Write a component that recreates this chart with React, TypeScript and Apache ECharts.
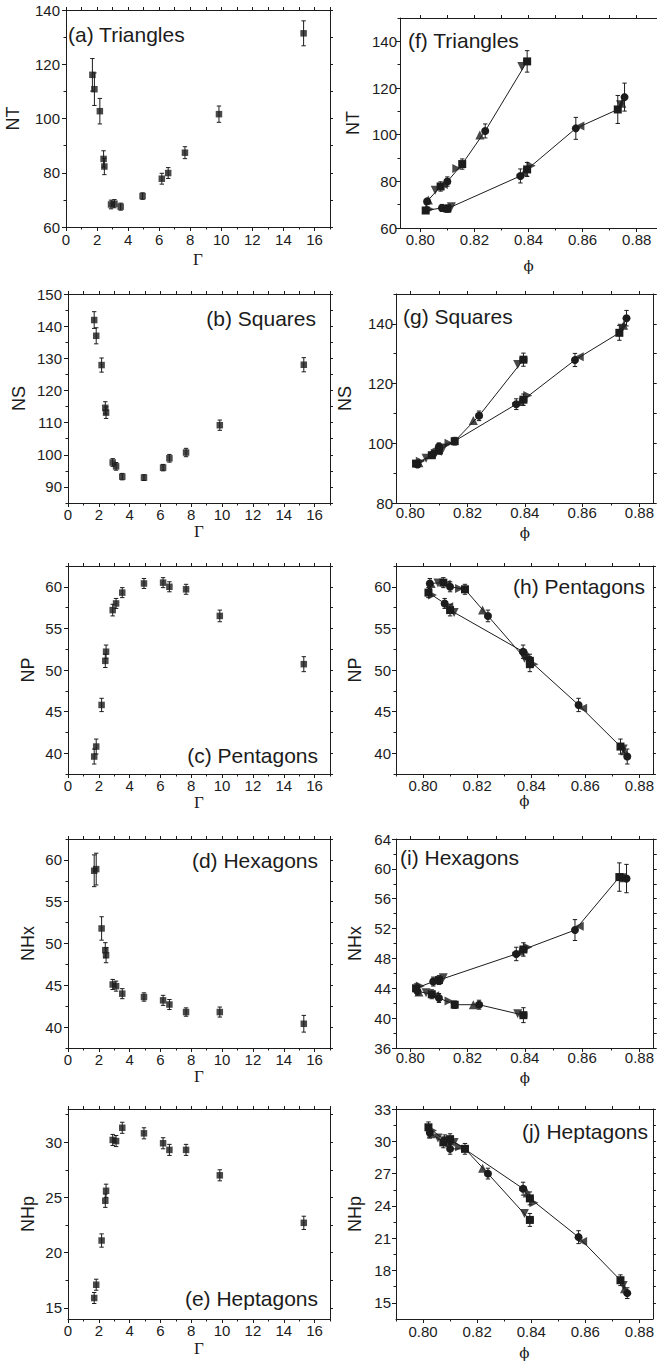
import React, { useEffect, useRef } from "react";
import * as echarts from "echarts";

// Coupling parameter Γ of each run
const gamma = [1.7, 1.83, 2.18, 2.42, 2.47, 2.9, 3.12, 3.52, 4.93, 6.17, 6.58, 7.66, 9.85, 15.3];

// Packing fraction ϕ of each run (filled squares/circles) and its horizontal error
const phi = [0.8755, 0.873, 0.8575, 0.8395, 0.837, 0.81, 0.808, 0.802, 0.8025, 0.8075, 0.81, 0.8155, 0.824, 0.8395];
const phiErr = [0.0008, 0.0008, 0.0008, 0.0012, 0.0012, 0.0008, 0.0008, 0.0006, 0.0006, 0.0008, 0.0008, 0.0008, 0.001, 0.0012];
// Packing fraction of the paired runs (triangle markers)
const phiAlt = [0.8745, 0.874, 0.859, 0.841, 0.8385, 0.8115, 0.8095, 0.8035, 0.803, 0.8055, 0.8085, 0.8135, 0.822, 0.8375];

// Number of triangles
const nTri = [116.1, 110.8, 102.7, 85.1, 82.3, 68.3, 68.6, 67.5, 71.4, 77.8, 79.9, 87.4, 101.6, 131.4];
const nTriErr = [6.0, 6.0, 4.7, 3.0, 3.0, 1.6, 1.5, 1.3, 1.2, 2.0, 2.0, 2.2, 3.0, 4.6];
const nTriAlt = [113.5, 112.8, 103.7, 86.7, 84.0, 69.1, 68.5, 68.0, 72.0, 76.2, 78.6, 85.5, 99.9, 129.2];

// Number of squares
const nSq = [141.9, 137.0, 127.9, 114.6, 113.1, 97.6, 96.4, 93.2, 92.9, 96.0, 98.9, 100.7, 109.2, 128.0];
const nSqErr = [2.6, 2.5, 2.2, 1.9, 1.8, 1.2, 1.2, 1.0, 0.9, 1.0, 1.2, 1.3, 1.6, 2.2];
const nSqAlt = [139.5, 138.5, 129.0, 116.0, 114.0, 98.4, 97.3, 94.0, 93.5, 95.0, 97.8, 100.0, 107.6, 126.4];

// Number of pentagons
const nPent = [39.6, 40.8, 45.8, 51.1, 52.2, 57.2, 58.0, 59.3, 60.4, 60.5, 60.0, 59.7, 56.5, 50.7];
const nPentErr = [0.9, 0.9, 0.8, 0.8, 0.8, 0.7, 0.6, 0.6, 0.6, 0.6, 0.6, 0.6, 0.7, 0.9];
const nPentAlt = [40.3, 40.5, 45.4, 50.7, 51.8, 56.9, 57.6, 59.0, 60.4, 60.45, 60.3, 59.8, 57.2, 51.4];

// Number of hexagons
const nHex = [58.7, 58.9, 51.8, 49.2, 48.6, 45.1, 44.9, 44.0, 43.6, 43.2, 42.7, 41.8, 41.8, 40.4];
const nHexErr = [1.9, 1.9, 1.4, 0.9, 0.9, 0.6, 0.6, 0.6, 0.5, 0.6, 0.6, 0.5, 0.6, 1.0];
const nHexAlt = [58.8, 58.8, 52.3, 49.5, 49.0, 45.4, 45.1, 44.3, 43.5, 43.4, 43.0, 42.3, 41.8, 40.6];

// Number of heptagons
const nHep = [15.9, 17.1, 21.1, 24.7, 25.6, 30.2, 30.1, 31.3, 30.8, 29.9, 29.3, 29.3, 27.0, 22.7];
const nHepErr = [0.5, 0.5, 0.6, 0.6, 0.6, 0.5, 0.5, 0.5, 0.5, 0.5, 0.5, 0.5, 0.5, 0.6];
const nHepAlt = [16.3, 16.6, 20.7, 24.3, 25.2, 29.9, 30.0, 31.0, 30.7, 30.3, 29.7, 29.5, 27.5, 23.3];

// Tick values
const gammaTicks = [0, 2, 4, 6, 8, 10, 12, 14, 16];
const gammaMinor = [1, 3, 5, 7, 9, 11, 13, 15, 17];
const phiTicks = [0.8, 0.82, 0.84, 0.86, 0.88];
const phiMinor = [0.79, 0.81, 0.83, 0.85, 0.87];
const triTicks = [60, 80, 100, 120, 140];
const triMinor = [70, 90, 110, 130, 150];
const sqTicksL = [90, 100, 110, 120, 130, 140, 150];
const sqMinorL = [85, 95, 105, 115, 125, 135, 145];
const sqTicksR = [80, 100, 120, 140];
const sqMinorR = [90, 110, 130, 150];
const fiveTicks = [40, 45, 50, 55, 60];
const fiveMinor = [37.5, 42.5, 47.5, 52.5, 57.5, 62.5];
const hepTicksL = [15, 20, 25, 30];
const hepMinorL = [17.5, 22.5, 27.5, 32.5];
const hexTicksR = [36, 40, 44, 48, 52, 56, 60, 64];
const hexMinorR = [38, 42, 46, 50, 54, 58, 62];
const hepTicksR = [15, 18, 21, 24, 27, 30, 33];
const hepMinorR = [16.5, 19.5, 22.5, 25.5, 28.5, 31.5];

const INK = "#1c1c1c";
const SANS = "'Liberation Sans', Arial, Helvetica, sans-serif";
const SERIF = "'Liberation Serif', 'Times New Roman', serif";
const PHI_FONT = "'DejaVu Serif', serif";

type Panel = {
  title: string;
  tx: number;
  ty: number;
  talign: "left" | "right";
  grid: { left: number; top: number; width: number; height: number };
  vsPhi: boolean;
  xMin: number;
  xMax: number;
  xNameGap: number;
  xLabelMargin: number;
  yMin: number;
  yMax: number;
  yTicks: number[];
  yMinor: number[];
  yName: string;
  yNameGap: number;
  yLabelMargin: number;
  values: number[];
  errs: number[];
  alt: number[];
};

const panels: Panel[] = [
  { title: "(a) Triangles", tx: 68, ty: 34, talign: "left", grid: { left: 66, top: 10, width: 264, height: 217 }, vsPhi: false, xMin: 0, xMax: 17, xNameGap: 24, xLabelMargin: 5, yMin: 60, yMax: 140, yTicks: triTicks, yMinor: triMinor.slice(0, 4), yName: "NT", yNameGap: 44, yLabelMargin: 6, values: nTri, errs: nTriErr, alt: nTriAlt },
  { title: "(b) Squares", tx: 316, ty: 318, talign: "right", grid: { left: 68, top: 294, width: 262, height: 209 }, vsPhi: false, xMin: 0, xMax: 17, xNameGap: 13, xLabelMargin: 4, yMin: 85, yMax: 150, yTicks: sqTicksL, yMinor: sqMinorL, yName: "NS", yNameGap: 40, yLabelMargin: 6, values: nSq, errs: nSqErr, alt: nSqAlt },
  { title: "(c) Pentagons", tx: 318, ty: 755, talign: "right", grid: { left: 68, top: 566, width: 262, height: 208 }, vsPhi: false, xMin: 0, xMax: 17, xNameGap: 19, xLabelMargin: 4, yMin: 37.5, yMax: 62.5, yTicks: fiveTicks, yMinor: fiveMinor, yName: "NP", yNameGap: 31, yLabelMargin: 6, values: nPent, errs: nPentErr, alt: nPentAlt },
  { title: "(d) Hexagons", tx: 318, ty: 860, talign: "right", grid: { left: 68, top: 839, width: 262, height: 209 }, vsPhi: false, xMin: 0, xMax: 17, xNameGap: 17, xLabelMargin: 4, yMin: 37.5, yMax: 62.5, yTicks: fiveTicks, yMinor: fiveMinor, yName: "NHx", yNameGap: 31, yLabelMargin: 6, values: nHex, errs: nHexErr, alt: nHexAlt },
  { title: "(e) Heptagons", tx: 318, ty: 1298, talign: "right", grid: { left: 68, top: 1109, width: 262, height: 210 }, vsPhi: false, xMin: 0, xMax: 17, xNameGap: 21, xLabelMargin: 4, yMin: 14, yMax: 33, yTicks: hepTicksL, yMinor: hepMinorL, yName: "NHp", yNameGap: 31, yLabelMargin: 6, values: nHep, errs: nHepErr, alt: nHepAlt },
  { title: "(f) Triangles", tx: 408, ty: 40, talign: "left", grid: { left: 400, top: 18, width: 268, height: 210 }, vsPhi: true, xMin: 0.7925, xMax: 0.8875, xNameGap: 30, xLabelMargin: 4, yMin: 60, yMax: 150, yTicks: triTicks, yMinor: triMinor, yName: "NT", yNameGap: 38, yLabelMargin: 3, values: nTri, errs: nTriErr, alt: nTriAlt },
  { title: "(g) Squares", tx: 403, ty: 316, talign: "left", grid: { left: 396, top: 294, width: 258, height: 209 }, vsPhi: true, xMin: 0.795, xMax: 0.885, xNameGap: 22, xLabelMargin: 2, yMin: 80, yMax: 150, yTicks: sqTicksR, yMinor: sqMinorR, yName: "NS", yNameGap: 42, yLabelMargin: 3, values: nSq, errs: nSqErr, alt: nSqAlt },
  { title: "(h) Pentagons", tx: 645, ty: 586, talign: "right", grid: { left: 396, top: 566, width: 257, height: 208 }, vsPhi: true, xMin: 0.79, xMax: 0.885, xNameGap: 19, xLabelMargin: 4, yMin: 37.5, yMax: 62.5, yTicks: fiveTicks, yMinor: fiveMinor, yName: "NP", yNameGap: 32, yLabelMargin: 5, values: nPent, errs: nPentErr, alt: nPentAlt },
  { title: "(i) Hexagons", tx: 400, ty: 857, talign: "left", grid: { left: 396, top: 839, width: 258, height: 209 }, vsPhi: true, xMin: 0.795, xMax: 0.885, xNameGap: 22, xLabelMargin: 2, yMin: 36, yMax: 64, yTicks: hexTicksR, yMinor: hexMinorR, yName: "NHx", yNameGap: 32, yLabelMargin: 5, values: nHex, errs: nHexErr, alt: nHexAlt },
  { title: "(j) Heptagons", tx: 648, ty: 1131, talign: "right", grid: { left: 396, top: 1109, width: 257, height: 210 }, vsPhi: true, xMin: 0.79, xMax: 0.885, xNameGap: 26, xLabelMargin: 5, yMin: 13.5, yMax: 33, yTicks: hepTicksR, yMinor: hepMinorR, yName: "NHp", yNameGap: 32, yLabelMargin: 5, values: nHep, errs: nHepErr, alt: nHepAlt },
];

const lineStyle = { color: INK, width: 1 };

// Vertical (and optionally horizontal) error bars with short caps
function renderErrorBars(_params: any, api: any) {
  const x = api.value(0);
  const y = api.value(1);
  const ey = api.value(2);
  const ex = api.value(3);
  const cap = 2.2;
  const st = { stroke: INK, lineWidth: 1 };
  const hi = api.coord([x, y + ey]);
  const lo = api.coord([x, y - ey]);
  const children: any[] = [
    { type: "line", shape: { x1: hi[0], y1: hi[1], x2: lo[0], y2: lo[1] }, style: st },
    { type: "line", shape: { x1: hi[0] - cap, y1: hi[1], x2: hi[0] + cap, y2: hi[1] }, style: st },
    { type: "line", shape: { x1: lo[0] - cap, y1: lo[1], x2: lo[0] + cap, y2: lo[1] }, style: st },
  ];
  if (ex > 0) {
    const l = api.coord([x - ex, y]);
    const r = api.coord([x + ex, y]);
    children.push(
      { type: "line", shape: { x1: l[0], y1: l[1], x2: r[0], y2: r[1] }, style: st },
      { type: "line", shape: { x1: l[0], y1: l[1] - cap, x2: l[0], y2: l[1] + cap }, style: st },
      { type: "line", shape: { x1: r[0], y1: r[1] - cap, x2: r[0], y2: r[1] + cap }, style: st }
    );
  }
  return { type: "group", children };
}

function buildOption() {
  const grids: any[] = [];
  const xAxes: any[] = [];
  const yAxes: any[] = [];
  const series: any[] = [];
  const graphics: any[] = [];

  panels.forEach((p, g) => {
    grids.push({ ...p.grid, containLabel: false, show: false });
    const xTicks = p.vsPhi ? phiTicks : gammaTicks;
    const xMinor = p.vsPhi ? phiMinor : gammaMinor;
    const labelFont = { fontSize: 15, color: INK, fontFamily: SANS };
    const base = { type: "value", gridIndex: g, splitLine: { show: false } };

    xAxes.push({
      ...base,
      position: "bottom",
      min: p.xMin,
      max: p.xMax,
      axisLine: { show: true, onZero: false, lineStyle },
      axisTick: { show: true, inside: false, length: 4, customValues: xTicks, lineStyle },
      axisLabel: {
        show: true,
        customValues: xTicks,
        margin: p.xLabelMargin,
        formatter: (v: number) => (p.vsPhi ? v.toFixed(2) : String(Math.round(v))),
        ...labelFont,
      },
      name: p.vsPhi ? "ϕ" : "Γ",
      nameLocation: "middle",
      nameGap: p.xNameGap,
      nameTextStyle: { fontFamily: p.vsPhi ? PHI_FONT : SERIF, fontSize: p.vsPhi ? 15 : 17, color: INK },
    });
    xAxes.push({
      ...base,
      position: "bottom",
      min: p.xMin,
      max: p.xMax,
      axisLine: { show: false, onZero: false },
      axisTick: { show: true, inside: false, length: 2.5, customValues: xMinor, lineStyle },
      axisLabel: { show: false },
    });
    xAxes.push({
      ...base,
      position: "top",
      min: p.xMin,
      max: p.xMax,
      axisLine: { show: true, onZero: false, lineStyle },
      axisTick: { show: true, inside: false, length: 3, customValues: [...xTicks, ...xMinor], lineStyle },
      axisLabel: { show: false },
    });

    yAxes.push({
      ...base,
      position: "left",
      min: p.yMin,
      max: p.yMax,
      axisLine: { show: true, onZero: false, lineStyle },
      axisTick: { show: true, inside: false, length: 4, customValues: p.yTicks, lineStyle },
      axisLabel: { show: true, customValues: p.yTicks, margin: p.yLabelMargin, ...labelFont },
      name: p.yName,
      nameLocation: "middle",
      nameGap: p.yNameGap,
      nameRotate: 90,
      nameTextStyle: { fontFamily: SANS, fontSize: 18, color: INK },
    });
    yAxes.push({
      ...base,
      position: "left",
      min: p.yMin,
      max: p.yMax,
      axisLine: { show: false, onZero: false },
      axisTick: { show: true, inside: false, length: 2.5, customValues: p.yMinor, lineStyle },
      axisLabel: { show: false },
    });
    yAxes.push({
      ...base,
      position: "right",
      min: p.yMin,
      max: p.yMax,
      axisLine: { show: true, onZero: false, lineStyle },
      axisTick: { show: true, inside: false, length: 3, customValues: [...p.yTicks, ...p.yMinor], lineStyle },
      axisLabel: { show: false },
    });

    const xi = 3 * g;
    const yi = 3 * g;
    const xs = p.vsPhi ? phi : gamma;

    series.push({
      type: "custom",
      xAxisIndex: xi,
      yAxisIndex: yi,
      renderItem: renderErrorBars,
      data: xs.map((x, i) => [x, p.values[i], p.errs[i], p.vsPhi ? phiErr[i] : 0]),
      z: 2,
      silent: true,
    });

    if (p.vsPhi) {
      series.push({
        type: "line",
        xAxisIndex: xi,
        yAxisIndex: yi,
        data: xs.map((x, i) => ({ value: [x, p.values[i]], symbol: i % 2 === 0 ? "circle" : "rect" })),
        symbolSize: 8,
        showSymbol: true,
        lineStyle: { color: INK, width: 1 },
        itemStyle: { color: INK },
        z: 3,
      });
      const rot = [0, 180, 90, -90];
      series.push({
        type: "scatter",
        xAxisIndex: xi,
        yAxisIndex: yi,
        data: phiAlt.map((x, i) => ({ value: [x, p.alt[i]], symbolRotate: rot[i % 4] })),
        symbol: "triangle",
        symbolSize: 9,
        itemStyle: { color: INK },
        z: 4,
      });
    } else {
      series.push({
        type: "scatter",
        xAxisIndex: xi,
        yAxisIndex: yi,
        data: xs.map((x, i) => [x, p.values[i]]),
        symbol: "rect",
        symbolSize: 6.5,
        itemStyle: { color: INK },
        z: 3,
      });
    }

    graphics.push({
      type: "text",
      x: p.tx,
      y: p.ty,
      z: 10,
      style: {
        text: p.title,
        fill: INK,
        fontFamily: SANS,
        fontSize: 21,
        align: p.talign,
        verticalAlign: "middle",
      },
    });
  });

  return {
    animation: false,
    backgroundColor: "#ffffff",
    grid: grids,
    xAxis: xAxes,
    yAxis: yAxes,
    series,
    graphic: graphics,
  };
}

export default function App() {
  const ref = useRef<HTMLDivElement>(null);
  useEffect(() => {
    document.body.style.margin = "0";
    const chart = echarts.init(ref.current as HTMLDivElement, undefined, { renderer: "svg" });
    chart.setOption(buildOption() as any);
    return () => chart.dispose();
  }, []);
  return <div ref={ref} style={{ width: 657, height: 1362, background: "#ffffff" }} />;
}
